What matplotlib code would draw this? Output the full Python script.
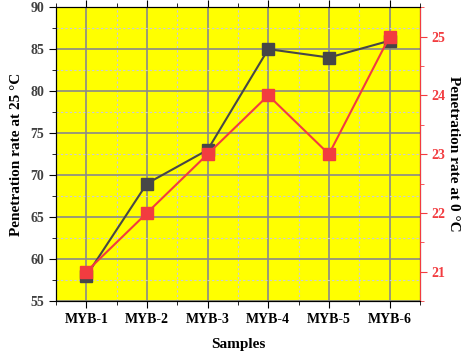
import matplotlib.pyplot as plt
from matplotlib.ticker import MultipleLocator

# datos
samples = ["MYB-1", "MYB-2", "MYB-3", "MYB-4", "MYB-5", "MYB-6"]
rate_25 = [58, 69, 73, 85, 84, 86]
rate_0 = [21, 22, 23, 24, 23, 25]

plt.rcParams["font.family"] = ["Liberation Serif", "DejaVu Serif"]
plt.rcParams["font.weight"] = "bold"

dark = "#474747"
red = "#f23c40"
grid_c = "#8a8a8a"

fig, ax = plt.subplots(figsize=(4.74, 3.56), dpi=100)
fig.subplots_adjust(left=0.118, right=0.886, top=0.980, bottom=0.154)
ax.set_facecolor("#ffff00")

x = list(range(1, len(samples) + 1))
ax.plot(x, rate_25, color=dark, lw=1.5, marker="s", ms=9, zorder=3)
ax.set_xlim(0.5, 6.5)
ax.set_ylim(55, 90)
ax.set_xticks(x)
ax.set_xticklabels(samples)
ax.set_xticks([i + 0.5 for i in range(0, 7)], minor=True)
ax.yaxis.set_major_locator(MultipleLocator(5))
ax.yaxis.set_minor_locator(MultipleLocator(2.5))
ax.grid(which="major", color=grid_c, lw=1.2)
ax.grid(which="minor", color="#c8c8e0", lw=0.8, ls=(0, (2, 2)))
ax.set_axisbelow(True)
ax.tick_params(axis="both", which="both", direction="out", labelsize=10,
               colors="black", labelcolor="#404040")
ax.tick_params(axis="x", which="both", top=True, labelcolor="black")
ax.tick_params(which="major", length=5)
ax.tick_params(which="minor", length=3)
ax.set_xlabel("Samples", fontsize=11, fontweight="bold", labelpad=9)
ax.set_ylabel("Penetration rate at 25 °C", fontsize=11, fontweight="bold",
              labelpad=5)

ax2 = ax.twinx()
ax2.plot(x, rate_0, color=red, lw=1.5, marker="s", ms=9, zorder=3)
ax2.set_ylim(20.5, 25.5)
ax2.yaxis.set_major_locator(MultipleLocator(1))
ax2.yaxis.set_minor_locator(MultipleLocator(0.5))
ax2.spines["right"].set_color(red)
ax2.tick_params(axis="y", which="both", colors=red, labelsize=10)
ax2.tick_params(which="major", length=5)
ax2.tick_params(which="minor", length=3)
ax2.set_ylabel("Penetration rate at 0 °C", fontsize=11, fontweight="bold",
               rotation=270, labelpad=10)

plt.savefig("out.png", dpi=100)
